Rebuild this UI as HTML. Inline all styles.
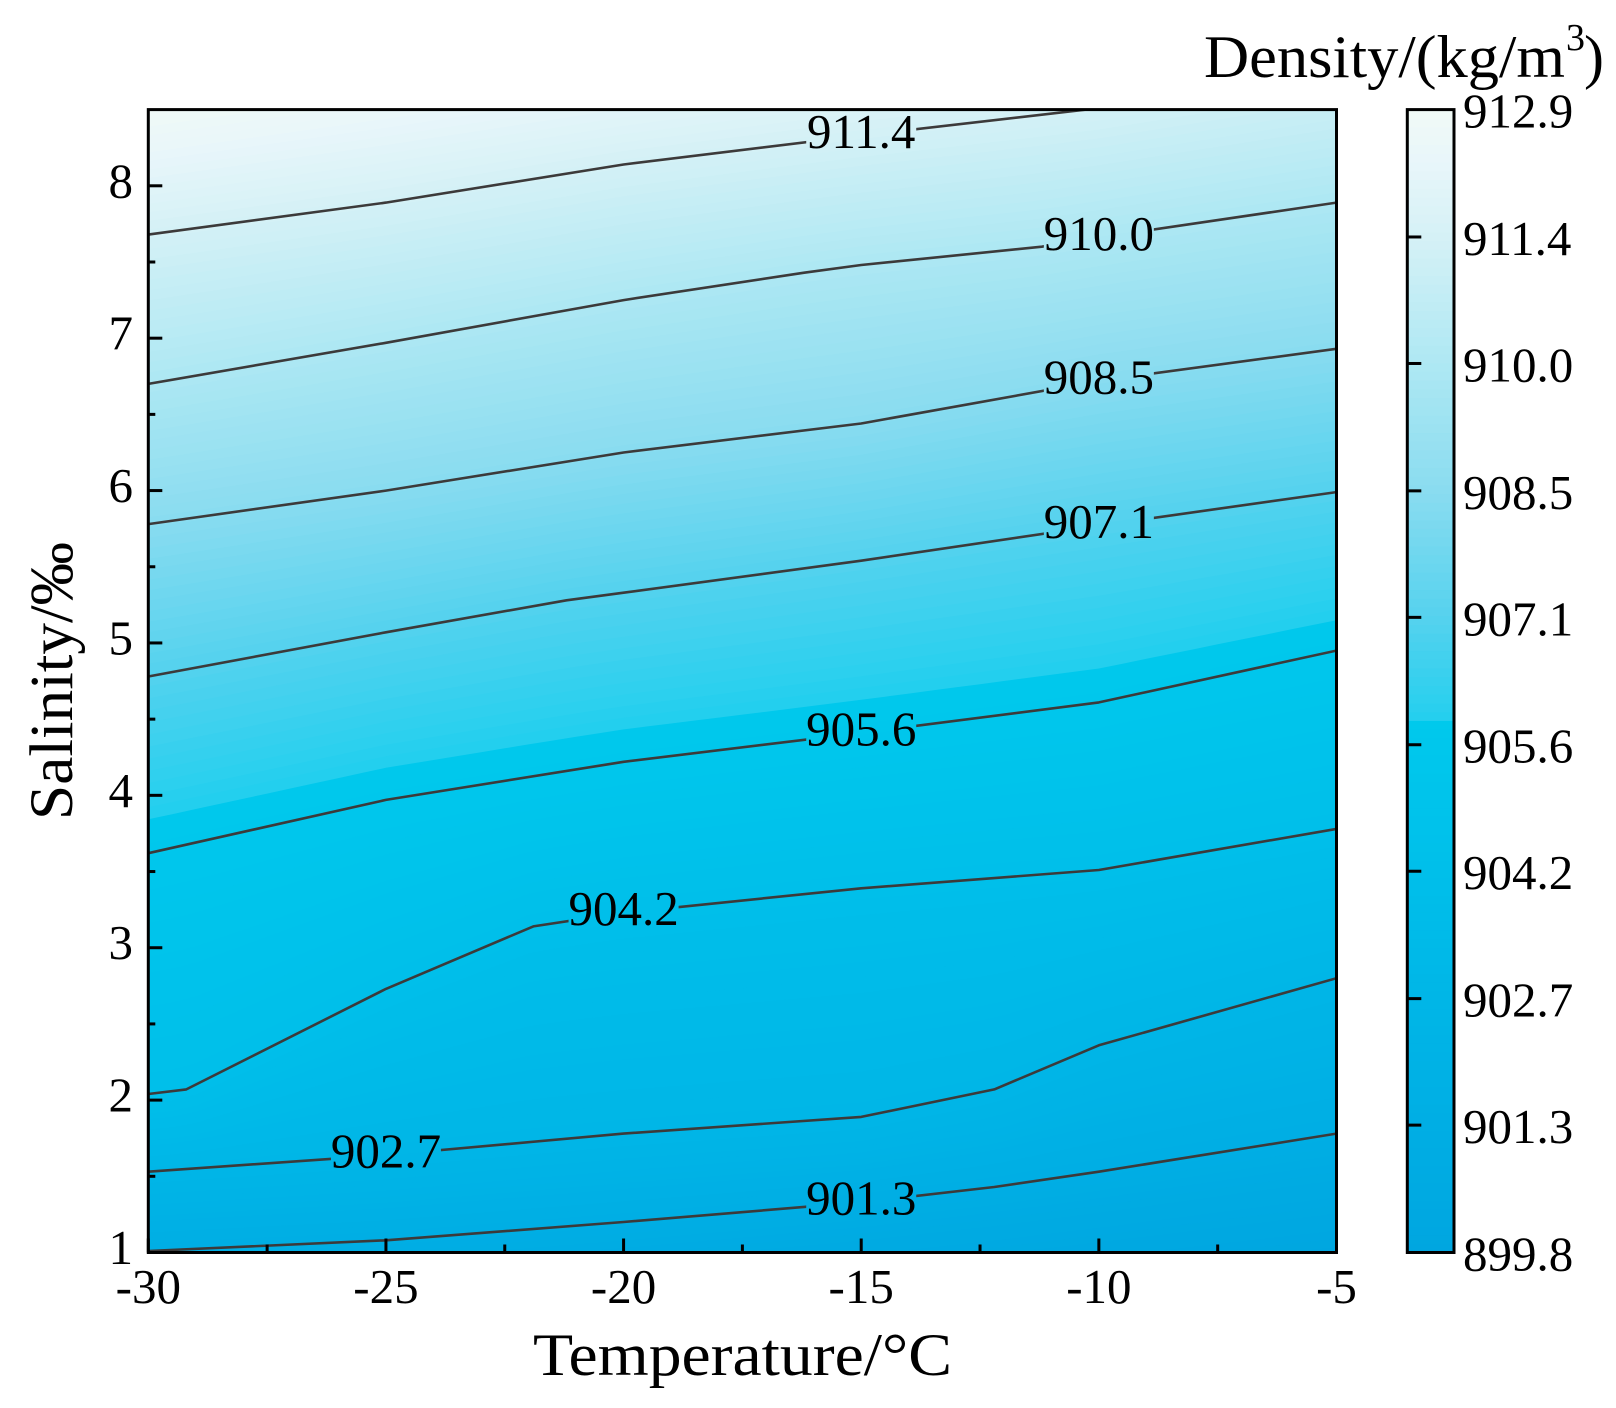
<!DOCTYPE html>
<html lang="en">
<head>
<meta charset="utf-8">
<title>Density contour chart</title>
<style>
html,body{margin:0;padding:0;background:#fff;width:1616px;height:1408px;overflow:hidden}
svg{display:block}
text{font-family:"Liberation Serif","DejaVu Serif",serif;fill:#000}
</style>
</head>
<body>
<svg id="chart" xmlns="http://www.w3.org/2000/svg" width="1616" height="1408" viewBox="0 0 1616 1408">
  <defs>
    <clipPath id="plot-clip"><rect x="148.3" y="109.6" width="1188.2" height="1142.9"/></clipPath>
    <mask id="label-gap-mask" maskUnits="userSpaceOnUse" x="0" y="0" width="1616" height="1408"><rect x="0" y="0" width="1616" height="1408" fill="#fff"/></mask>
  </defs>
  <g id="field" clip-path="url(#plot-clip)"></g>
  <g id="contours" clip-path="url(#plot-clip)"><g id="contour-lines-inner" mask="url(#label-gap-mask)"></g></g>
  <g id="contour-labels"></g>
  <g id="x-ticks"></g>
  <g id="y-ticks"></g>
  <rect x="148.3" y="109.6" width="1188.2" height="1142.9" fill="none" stroke="#000" stroke-width="3"/>
  <g id="colorbar"></g>
  <g id="colorbar-ticks"></g>
  <rect x="1407.3" y="109.6" width="46.7" height="1142.9" fill="none" stroke="#000" stroke-width="3"/>
  <text x="533" y="1375" font-size="60" textLength="419" lengthAdjust="spacingAndGlyphs">Temperature/°C</text>
  <text transform="translate(72,820) rotate(-90)" font-size="61" textLength="278" lengthAdjust="spacingAndGlyphs">Salinity/‰</text>
  <g>
    <text x="1204" y="77" font-size="60" textLength="361" lengthAdjust="spacingAndGlyphs">Density/(kg/m</text>
    <text x="1566" y="50" font-size="38">3</text>
    <text x="1584" y="77" font-size="60">)</text>
  </g>
</svg>
<script>
// ---- chart data ----
const xTickValues = [-30, -25, -20, -15, -10, -5];
const xMinorValues = [-27.5, -22.5, -17.5, -12.5, -7.5];
const yTickValues = [1, 2, 3, 4, 5, 6, 7, 8];
const yMinorValues = [1.5, 2.5, 3.5, 4.5, 5.5, 6.5, 7.5];
const densityLevels = [899.8, 901.26, 902.71, 904.17, 905.62, 907.08, 908.53, 909.99, 911.44, 912.9];
const colorValues = [899.8, 901.26, 902.71, 904.17, 905.62, 905.86, 905.87, 907.08, 908.53, 909.99, 911.44, 912.3, 912.9];
const colorHex = ['#00a6e0', '#00aee4', '#00b6e7', '#00bfea', '#00c7ec', '#00c9ec', '#22cfee', '#55d2ee', '#8adcf0', '#aee8f3', '#d5f1f6', '#e8f6fa', '#f1faf6'];

// Salinity of each isoline as [temperature, salinity] nodes
const edge899 = [[-30, 0.2], [-5, 0.98]];
const contour901 = [[-30, 1.01], [-25, 1.08], [-20, 1.2], [-15, 1.33], [-12.2, 1.43], [-10, 1.53], [-5, 1.78]];
const contour902 = [[-30, 1.53], [-25, 1.64], [-20, 1.78], [-15, 1.89], [-12.2, 2.07], [-10, 2.36], [-5, 2.8]];
const contour904 = [[-30, 2.04], [-29.2, 2.07], [-25, 2.73], [-21.9, 3.14], [-20, 3.23], [-15, 3.39], [-10, 3.51], [-5, 3.78]];
const contour905 = [[-30, 3.62], [-25, 3.97], [-20, 4.22], [-15, 4.41], [-10, 4.61], [-5, 4.95]];
const contour907 = [[-30, 4.78], [-25, 5.07], [-21.2, 5.28], [-20, 5.33], [-15, 5.54], [-10, 5.77], [-5, 5.99]];
const contour908 = [[-30, 5.78], [-25, 6.0], [-20, 6.25], [-15, 6.44], [-10, 6.72], [-5, 6.93]];
const contour910 = [[-30, 6.7], [-25, 6.97], [-20, 7.25], [-16.2, 7.43], [-15, 7.48], [-11.2, 7.6], [-10, 7.66], [-5, 7.89]];
const contour911 = [[-30, 7.68], [-25, 7.89], [-20, 8.14], [-15, 8.33], [-10, 8.51], [-5, 8.76]];
const edge912 = [[-30, 8.5], [-5, 9.62]];
const contourLabelT = [-15, -25, -20, -15, -10, -10, -10, -15];

const contourSeries = [contour901, contour902, contour904, contour905, contour907, contour908, contour910, contour911];
const allIsolines = [edge899].concat(contourSeries, [edge912]);

// ---- axis functions ----
const NS = 'http://www.w3.org/2000/svg';
const plotLeft = 148.3, plotRight = 1336.5, plotTop = 109.6, plotBottom = 1252.5;
const barLeft = 1407.3, barRight = 1454;
function xScale(t) { return plotLeft + (t + 30) / 25 * (plotRight - plotLeft); }
function yScale(s) { return plotBottom - (s - 1) / 7.5 * (plotBottom - plotTop); }
function barScale(d) { return plotBottom - (d - 899.8) / 13.1 * (plotBottom - plotTop); }
function make(parent, tag, attrs, content) {
  const el = document.createElementNS(NS, tag);
  for (const k in attrs) el.setAttribute(k, attrs[k]);
  if (content !== undefined) el.textContent = content;
  parent.appendChild(el);
  return el;
}
function interp(nodes, t) {
  for (let i = 0; i < nodes.length - 1; i++) {
    if (t <= nodes[i + 1][0]) {
      const f = (t - nodes[i][0]) / (nodes[i + 1][0] - nodes[i][0]);
      return nodes[i][1] + f * (nodes[i + 1][1] - nodes[i][1]);
    }
  }
  return nodes[nodes.length - 1][1];
}
function hexRgb(h) { return [1, 3, 5].map(function (i) { return parseInt(h.substr(i, 2), 16); }); }
function colorAt(d) {
  for (let i = 0; i < colorValues.length - 1; i++) {
    if (d <= colorValues[i + 1]) {
      const f = Math.max(0, (d - colorValues[i]) / (colorValues[i + 1] - colorValues[i]));
      const a = hexRgb(colorHex[i]), b = hexRgb(colorHex[i + 1]);
      return 'rgb(' + a.map(function (v, j) { return Math.round(v + f * (b[j] - v)); }).join(',') + ')';
    }
  }
  return colorHex[colorHex.length - 1];
}
function isolineSalinity(d, t) {
  let i = 0;
  while (i < densityLevels.length - 2 && d > densityLevels[i + 1]) i++;
  const f = (d - densityLevels[i]) / (densityLevels[i + 1] - densityLevels[i]);
  const a = interp(allIsolines[i], t), b = interp(allIsolines[i + 1], t);
  return a + f * (b - a);
}

// ---- filled density field, painted from low to high level ----
const field = document.getElementById('field');
const fieldBase = make(field, 'rect', { x: plotLeft, y: plotTop, width: plotRight - plotLeft, height: plotBottom - plotTop, fill: colorAt(899.8) });


for (let n = 1; n <= 131; n++) {
  const d = 899.8 + n * 0.1;
  const pts = [];
  for (let t = -30; t <= -5.001; t += 0.5) pts.push(xScale(t).toFixed(1) + ',' + yScale(isolineSalinity(d, t)).toFixed(1));
  pts.push(xScale(-5).toFixed(1) + ',' + yScale(isolineSalinity(d, -5)).toFixed(1));
  pts.push(xScale(-5).toFixed(1) + ',0');
  pts.push(xScale(-30).toFixed(1) + ',0');
  const band = make(field, 'polygon', { points: pts.join(' '), fill: colorAt(d) });
  
  
}

// ---- contour lines with labels ----
const lineGroup = document.getElementById('contour-lines-inner');
const labelGroup = document.getElementById('contour-labels');
const gapMask = document.getElementById('label-gap-mask');
contourSeries.forEach(function (nodes, i) {
  const line = make(lineGroup, 'polyline', {
    points: nodes.map(function (p) { return xScale(p[0]).toFixed(1) + ',' + yScale(p[1]).toFixed(1); }).join(' '),
    fill: 'none', stroke: '#3c3a3a', 'stroke-width': 2.6, 'stroke-linejoin': 'round'
  });
  
  
  const t = contourLabelT[i];
  const lx = xScale(t), ly = yScale(interp(nodes, t));
  make(gapMask, 'rect', { x: lx - 55, y: ly - 26, width: 110, height: 52, fill: '#000' });
  const label = make(labelGroup, 'text', { x: lx, y: ly + 12.5, 'font-size': 49, 'text-anchor': 'middle' }, densityLevels[i + 1].toFixed(1));
  
  
});

// ---- x axis ----
const xTicks = document.getElementById('x-ticks');
xTickValues.forEach(function (v) {
  const tick = make(xTicks, 'line', { x1: xScale(v), x2: xScale(v), y1: plotBottom, y2: plotBottom - 14, stroke: '#000', 'stroke-width': 3 });
  
  
  const label = make(xTicks, 'text', { x: xScale(v), y: 1303, 'font-size': 49, 'text-anchor': 'middle' }, String(v));
  
  
});
xMinorValues.forEach(function (v) {
  const tick = make(xTicks, 'line', { x1: xScale(v), x2: xScale(v), y1: plotBottom, y2: plotBottom - 8, stroke: '#000', 'stroke-width': 3 });
  
  
});

// ---- y axis ----
const yTicks = document.getElementById('y-ticks');
yTickValues.forEach(function (v) {
  const tick = make(yTicks, 'line', { x1: plotLeft, x2: plotLeft + 14, y1: yScale(v), y2: yScale(v), stroke: '#000', 'stroke-width': 3 });
  
  
  const label = make(yTicks, 'text', { x: 133, y: yScale(v) + 11.5, 'font-size': 49, 'text-anchor': 'end' }, String(v));
  
  
});
yMinorValues.forEach(function (v) {
  const tick = make(yTicks, 'line', { x1: plotLeft, x2: plotLeft + 7, y1: yScale(v), y2: yScale(v), stroke: '#000', 'stroke-width': 3 });
  
  
});

// ---- colorbar ----
const bar = document.getElementById('colorbar');
for (let n = 0; n < 131; n++) {
  const d = 899.8 + n * 0.1;
  const strip = make(bar, 'rect', { x: barLeft, y: barScale(d + 0.1), width: barRight - barLeft, height: barScale(d) - barScale(d + 0.1) + 0.6, fill: colorAt(d + 0.05) });
  
  
}
const barTicks = document.getElementById('colorbar-ticks');
densityLevels.forEach(function (v, i) {
  if (i > 0 && i < densityLevels.length - 1) {
    const tick = make(barTicks, 'line', { x1: barLeft, x2: barLeft + 14, y1: barScale(v), y2: barScale(v), stroke: '#000', 'stroke-width': 3 });
    
    
  }
  const label = make(barTicks, 'text', { x: 1463, y: barScale(v) + 18, 'font-size': 49 }, v.toFixed(1));
  
  
});
</script>
</body>
</html>
